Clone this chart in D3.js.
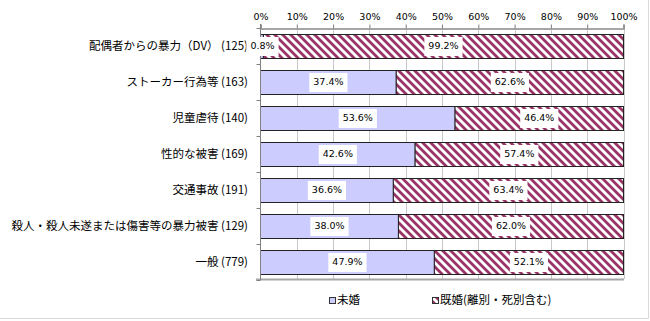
<!DOCTYPE html>
<html>
<head>
<meta charset="utf-8">
<script src="https://cdn.jsdelivr.net/npm/d3@7"></script>
<style>
  body { margin: 0; background: #fff; }
  svg text { font-family: "Noto Sans CJK JP", "Noto Sans", sans-serif; }
</style>
</head>
<body>
<div id="chart"></div>
<script>
const categories = [
  "配偶者からの暴力（DV） (125)",
  "ストーカー行為等 (163)",
  "児童虐待 (140)",
  "性的な被害 (169)",
  "交通事故 (191)",
  "殺人・殺人未遂または傷害等の暴力被害 (129)",
  "一般 (779)",
];
const unmarried = [0.8, 37.4, 53.6, 42.6, 36.6, 38.0, 47.9];
const married = [99.2, 62.6, 46.4, 57.4, 63.4, 62.0, 52.1];
const seriesNames = ["未婚", "既婚(離別・死別含む)"];
const tickValues = [0, 10, 20, 30, 40, 50, 60, 70, 80, 90, 100];

const width = 650;
const height = 321;

const svg = d3.select("#chart")
  .append("svg")
  .attr("width", width)
  .attr("height", height);

const defs = svg.append("defs");
const hatch = defs.append("pattern")
  .attr("id", "hatch")
  .attr("patternUnits", "userSpaceOnUse")
  .attr("width", 8)
  .attr("height", 8);
hatch.append("rect").attr("width", 8).attr("height", 8).attr("fill", "#fff");
hatch.append("path")
  .attr("d", "M-2,-2L10,10M-6,2L2,10M6,-2L10,2")
  .attr("stroke", "#993366")
  .attr("stroke-width", 2.8);

const x = d3.scaleLinear().domain([0, 100]).range([260.5, 623.5]);
const y = d3.scaleBand()
  .domain(categories)
  .range([28, 280])
  .paddingInner(1 / 3)
  .paddingOuter(1 / 6);

// outer frame (right and bottom only)
svg.append("path")
  .attr("d", `M648.5,0V318.5H0`)
  .attr("fill", "none")
  .attr("stroke", "#d9d9d9");

// gridlines
svg.append("g")
  .selectAll("line")
  .data(tickValues.slice(1))
  .join("line")
  .attr("x1", (d) => Math.round(x(d)) + 0.5)
  .attr("x2", (d) => Math.round(x(d)) + 0.5)
  .attr("y1", 28)
  .attr("y2", 279)
  .attr("stroke", "#c8c8c8");

// top axis
const topAxis = svg.append("g")
  .attr("transform", "translate(0,28.5)")
  .call(d3.axisTop(x).tickValues(tickValues).tickFormat((d) => d + "%").tickSizeOuter(0).tickSize(4));
topAxis.select(".domain").attr("stroke", "#a6a6a6").attr("stroke-width", 2);
topAxis.selectAll(".tick line").attr("stroke", "#808080");
topAxis.selectAll(".tick text")
  .attr("font-size", 10)
  .attr("fill", "#000")
  .attr("y", -9)
  .style("font-family", "'DejaVu Sans', sans-serif")
  .attr("font-size", 9.5);

// bottom line
svg.append("line")
  .attr("x1", 256).attr("x2", 624)
  .attr("y1", 279.5).attr("y2", 279.5)
  .attr("stroke", "#a6a6a6").attr("stroke-width", 2);

// bars
const rows = categories.map((c, i) => ({ c, u: unmarried[i], m: married[i] }));
const barG = svg.append("g");
barG.selectAll("rect.u")
  .data(rows)
  .join("rect")
  .attr("class", "u")
  .attr("x", x(0))
  .attr("y", (d) => y(d.c) + 0.5)
  .attr("width", (d) => x(d.u) - x(0))
  .attr("height", y.bandwidth())
  .attr("fill", "#ccccff")
  .attr("stroke", "#222");
barG.selectAll("rect.m")
  .data(rows)
  .join("rect")
  .attr("class", "m")
  .attr("x", (d) => x(d.u))
  .attr("y", (d) => y(d.c) + 0.5)
  .attr("width", (d) => x(d.u + d.m) - x(d.u))
  .attr("height", y.bandwidth())
  .attr("fill", "url(#hatch)")
  .attr("stroke", "#222");

// left axis
const leftAxis = svg.append("g").attr("transform", "translate(260.5,0)");
leftAxis.append("line")
  .attr("y1", 24).attr("y2", 280)
  .attr("stroke", "#808080");
leftAxis.selectAll("line.tk")
  .data(d3.range(categories.length + 1))
  .join("line")
  .attr("class", "tk")
  .attr("x1", -4).attr("x2", 0)
  .attr("y1", (i) => 28 + i * y.step() + 0.5)
  .attr("y2", (i) => 28 + i * y.step() + 0.5)
  .attr("stroke", "#808080");

// category labels
svg.append("g")
  .selectAll("text")
  .data(categories)
  .join("text")
  .attr("x", 248)
  .attr("y", (d) => y(d) + y.bandwidth() / 2 + 1)
  .attr("text-anchor", "end")
  .attr("dominant-baseline", "middle")
  .attr("font-size", 11.5)
  .attr("fill", "#000")
  .text((d) => d);

// value labels with white boxes
const labels = [];
rows.forEach((d) => {
  labels.push({ cx: (x(0) + x(d.u)) / 2, cy: y(d.c) + y.bandwidth() / 2 + 0.5, t: d.u.toFixed(1) + "%" });
  labels.push({ cx: (x(d.u) + x(100)) / 2, cy: y(d.c) + y.bandwidth() / 2 + 0.5, t: d.m.toFixed(1) + "%" });
});
labels[0].cx = 262.5;
const lblG = svg.append("g")
  .selectAll("g")
  .data(labels)
  .join("g")
  .attr("transform", (d) => `translate(${d.cx},${d.cy})`);
const lblText = lblG.append("text")
  .attr("text-anchor", "middle")
  .attr("dominant-baseline", "middle")
  .attr("font-size", 10)
  .attr("fill", "#000")
  .style("font-family", "'DejaVu Sans', sans-serif")
  .attr("font-size", 9.5)
  .text((d) => d.t);
lblText.each(function () {
  const w = this.getComputedTextLength();
  d3.select(this.parentNode)
    .insert("rect", "text")
    .attr("x", -w / 2 - 4)
    .attr("y", -9.5)
    .attr("width", w + 8)
    .attr("height", 19)
    .attr("fill", "#fff");
});

// legend
const legend = svg.append("g").attr("transform", "translate(0,301)");
const legendItems = [
  { name: seriesNames[0], fill: "#ccccff", x: 329 },
  { name: seriesNames[1], fill: "url(#hatch)", x: 432 },
];
const li = legend.selectAll("g")
  .data(legendItems)
  .join("g")
  .attr("transform", (d) => `translate(${d.x},0)`);
li.append("rect")
  .attr("x", 0.5).attr("y", -3.5)
  .attr("width", 6).attr("height", 6)
  .attr("fill", (d) => d.fill)
  .attr("stroke", "#333");
li.append("text")
  .attr("x", 8)
  .attr("y", 0)
  .attr("dominant-baseline", "middle")
  .attr("font-size", 11.5)
  .attr("fill", "#000")
  .text((d) => d.name);
</script>
</body>
</html>
